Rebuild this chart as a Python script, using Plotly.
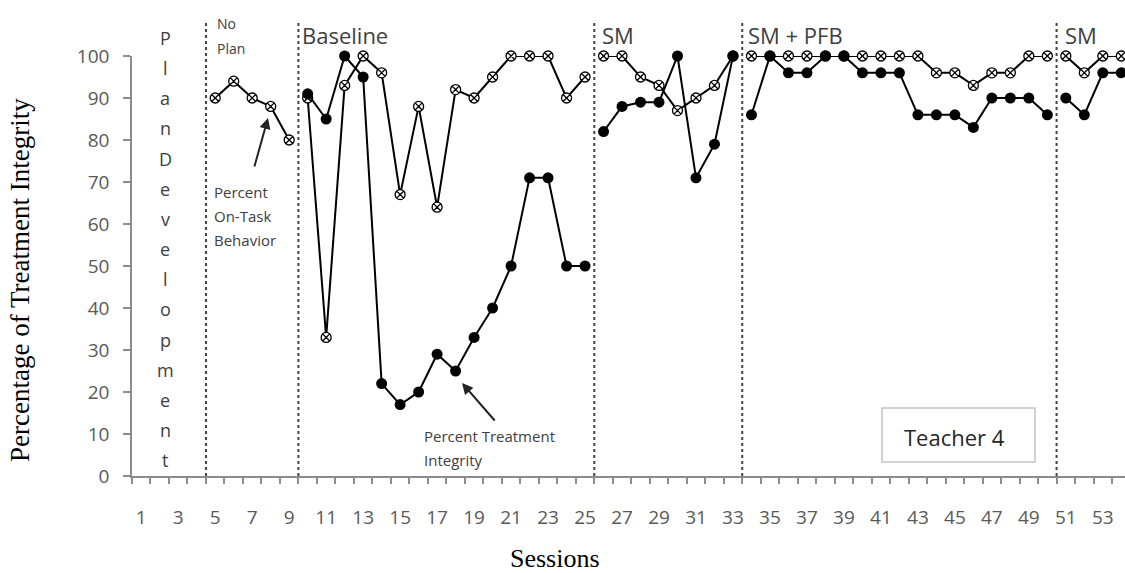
import plotly.graph_objects as go

# ---------------- data ----------------
no_plan_sessions = [5, 6, 7, 8, 9]
no_plan_on_task = [90, 94, 90, 88, 80]

baseline_sessions = list(range(10, 26))
baseline_on_task = [90, 33, 93, 100, 96, 67, 88, 64, 92, 90, 95, 100, 100, 100, 90, 95]
baseline_integrity = [91, 85, 100, 95, 22, 17, 20, 29, 25, 33, 40, 50, 71, 71, 50, 50]

sm1_sessions = list(range(26, 34))
sm1_on_task = [100, 100, 95, 93, 87, 90, 93, 100]
sm1_integrity = [82, 88, 89, 89, 100, 71, 79, 100]

pfb_sessions = list(range(34, 51))
pfb_on_task = [100, 100, 100, 100, 100, 100, 100, 100, 100, 100, 96, 96, 93, 96, 96, 100, 100]
pfb_integrity = [86, 100, 96, 96, 100, 100, 96, 96, 96, 86, 86, 86, 83, 90, 90, 90, 86]

sm2_sessions = [51, 52, 53, 54]
sm2_on_task = [100, 96, 100, 100]
sm2_integrity = [90, 86, 96, 96]

phase_boundaries = [4.5, 9.5, 25.5, 33.5, 50.5]
tick_sessions = list(range(1, 54, 2))
y_ticks = list(range(0, 101, 10))
vertical_label = "PlanDevelopment"

# ---------------- geometry helpers ----------------
W, H = 1125, 573
ML, MR, MT, MB = 132, 0, 56, 97
X0, X1 = 0.5, 54.2
PW, PH = W - ML - MR, H - MT - MB


def pxp(px):
    return (px - ML) / PW


def pyp(py):
    return (H - MB - py) / PH


def join(*parts):
    xs, ys = [], []
    for sx, sy in parts:
        if xs:
            xs.append(None)
            ys.append(None)
        xs += list(sx)
        ys += list(sy)
    return xs, ys


on_x, on_y = join((no_plan_sessions, no_plan_on_task), (baseline_sessions, baseline_on_task),
                  (sm1_sessions, sm1_on_task), (pfb_sessions, pfb_on_task), (sm2_sessions, sm2_on_task))
ti_x, ti_y = join((baseline_sessions, baseline_integrity), (sm1_sessions, sm1_integrity),
                  (pfb_sessions, pfb_integrity), (sm2_sessions, sm2_integrity))

fig = go.Figure()
fig.add_trace(go.Scatter(
    x=on_x, y=on_y, mode="lines+markers", name="Percent On-Task Behavior",
    line=dict(color="black", width=2),
    marker=dict(symbol="circle-x", size=10, color="white", line=dict(color="black", width=1.3)),
    cliponaxis=False, showlegend=False, connectgaps=False))
fig.add_trace(go.Scatter(
    x=ti_x, y=ti_y, mode="lines+markers", name="Percent Treatment Integrity",
    line=dict(color="black", width=2),
    marker=dict(symbol="circle", size=11, color="black"),
    cliponaxis=False, showlegend=False, connectgaps=False))

shapes = []
for b in phase_boundaries:
    shapes.append(dict(type="line", xref="x", yref="paper", x0=b, x1=b, y0=0, y1=pyp(22),
                       line=dict(color="#444", width=2, dash="dot")))
shapes.append(dict(type="rect", xref="paper", yref="paper", x0=pxp(882), x1=pxp(1035),
                   y0=pyp(462), y1=pyp(408), line=dict(color="#c4c4c4", width=1.5)))

sans = "Open Sans"
txt = "#404040"
ann = []


def label(text, px, py, size, xanchor="left", color=txt, family=sans, angle=0):
    ann.append(dict(xref="paper", yref="paper", x=pxp(px), y=pyp(py), text=text,
                    xanchor=xanchor, yanchor="middle", showarrow=False, textangle=angle,
                    font=dict(family=family, size=size, color=color)))


# phase labels
label("No", 215, 23, 14)
label("Plan", 215, 48, 14)
for name, px in [("Baseline", 300), ("SM", 600), ("SM + PFB", 746), ("SM", 1063)]:
    label(name, px, 35, 22)
# vertical "Plan Development"
for i, ch in enumerate(vertical_label):
    label(ch, 165, 38 + i * 30.15, 18, xanchor="center")
# series labels
for t, py in [("Percent", 192), ("On-Task", 216), ("Behavior", 240)]:
    label(t, 212, py, 15)
for t, py in [("Percent Treatment", 436), ("Integrity", 460)]:
    label(t, 422, py, 15)
# arrows
ann.append(dict(xref="paper", yref="paper", x=pxp(268), y=pyp(118), ax=-14, ay=50, text="",
                showarrow=True, arrowhead=2, arrowsize=1.1, arrowwidth=2, arrowcolor="#222"))
ann.append(dict(xref="paper", yref="paper", x=pxp(462), y=pyp(383), ax=34, ay=39, text="",
                showarrow=True, arrowhead=2, arrowsize=1.1, arrowwidth=2, arrowcolor="#222"))
# teacher box text
label("Teacher 4", 954, 437, 22, xanchor="center", color="#262626")
# axis titles
label("Percentage of Treatment Integrity", 20, 280, 27, xanchor="center", color="black",
      family="Liberation Serif", angle=-90)
label("Sessions", 555, 558, 26, xanchor="center", color="black", family="Liberation Serif")

fig.update_layout(
    width=W, height=H, margin=dict(l=ML, r=MR, t=MT, b=MB),
    plot_bgcolor="white", paper_bgcolor="white",
    shapes=shapes, annotations=ann,
    xaxis=dict(range=[X0, X1], tickmode="array", tickvals=tick_sessions,
               ticktext=[str(s) for s in tick_sessions], ticks="outside", ticklen=0,
               tickfont=dict(family=sans, size=19, color="#595959"), ticklabelstandoff=23,
               showline=True, linecolor="#8c8c8c", linewidth=1.5, showgrid=False, zeroline=False,
               minor=dict(tickmode="array", tickvals=[0.5 + i for i in range(54)], ticks="outside",
                          ticklen=6, tickcolor="#8c8c8c", tickwidth=1.5, showgrid=False)),
    yaxis=dict(range=[0, 100], tickmode="array", tickvals=y_ticks, ticks="outside", ticklen=7,
               tickcolor="#8c8c8c", tickwidth=1.5,
               tickfont=dict(family=sans, size=19, color="#595959"), ticklabelstandoff=10,
               showline=True, linecolor="#8c8c8c", linewidth=1.5, showgrid=False, zeroline=False),
)

fig.write_html("out.html", config={"displayModeBar": False},
               post_script="document.body.style.margin='0';")
